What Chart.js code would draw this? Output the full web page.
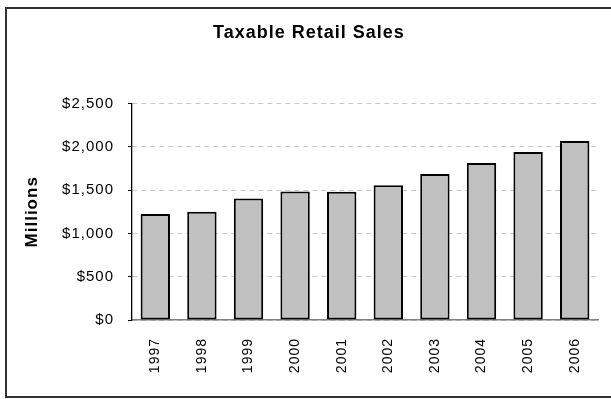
<!DOCTYPE html>
<html>
<head>
<meta charset="utf-8">
<script src="https://cdn.jsdelivr.net/npm/chart.js@4.4.1/dist/chart.umd.min.js"></script>
<style>
  html, body { margin: 0; padding: 0; background: #fff; }
  #wrap { width: 611px; height: 399px; }
</style>
</head>
<body>
<div id="wrap"><canvas id="salesChart" width="611" height="399"></canvas></div>
<script>
/* === DATA === */
const years = ["1997", "1998", "1999", "2000", "2001", "2002", "2003", "2004", "2005", "2006"];
const salesMillions = [1226, 1250, 1404, 1484, 1482, 1557, 1688, 1815, 1942, 2069];
const yTicks = [0, 500, 1000, 1500, 2000, 2500];

const FONT = "'Liberation Sans', Arial, sans-serif";

// bingkai luar chart
const frameBox = {
  id: "frameBox",
  beforeDraw(chart) {
    chart.ctx.letterSpacing = "1px";
  },
  afterDraw(chart) {
    const ctx = chart.ctx;
    ctx.save();
    ctx.strokeStyle = "#333";
    ctx.lineWidth = 2;
    ctx.strokeRect(6, 8, 620, 389);
    ctx.restore();
  }
};

const ctx = document.getElementById("salesChart").getContext("2d");
new Chart(ctx, {
  type: "bar",
  data: {
    labels: years,
    datasets: [{
      label: "Taxable Retail Sales",
      data: salesMillions,
      backgroundColor: "#c0c0c0",
      borderColor: "#000",
      borderWidth: 2,
      borderSkipped: false,
      categoryPercentage: 1,
      barPercentage: 0.63
    }]
  },
  options: {
    responsive: false,
    animation: false,
    layout: { padding: { left: 20, right: 13, top: 8, bottom: 0 } },
    plugins: {
      legend: { display: false },
      tooltip: { enabled: false },
      title: {
        display: true,
        text: "Taxable Retail Sales",
        color: "#000",
        font: { family: FONT, size: 18, weight: "bold" },
        padding: { top: 14, bottom: 60 }
      }
    },
    scales: {
      x: {
        grid: { display: false },
        border: { color: "#808080", width: 1.5 },
        ticks: {
          color: "#000",
          font: { family: FONT, size: 14 },
          minRotation: 90,
          maxRotation: 90,
          padding: 10
        },
        afterFit(scale) { scale.height = 79; }
      },
      y: {
        min: 0,
        max: 2500,
        afterBuildTicks(scale) {
          scale.ticks = yTicks.map(v => ({ value: v }));
        },
        grid: {
          color: "#c8c8c8",
          tickColor: "#000",
          tickLength: 4
        },
        border: { color: "#000", width: 1.3, dash: [5, 4] },
        ticks: {
          color: "#000",
          font: { family: FONT, size: 15 },
          padding: 14,
          callback: v => "$" + v.toLocaleString("en-US")
        },
        title: {
          display: true,
          text: "Millions",
          color: "#000",
          font: { family: FONT, size: 17, weight: "bold" },
          padding: { top: 2, bottom: 0 }
        },
        afterFit(scale) { scale.width = 112; }
      }
    }
  },
  plugins: [frameBox]
});
</script>
</body>
</html>
